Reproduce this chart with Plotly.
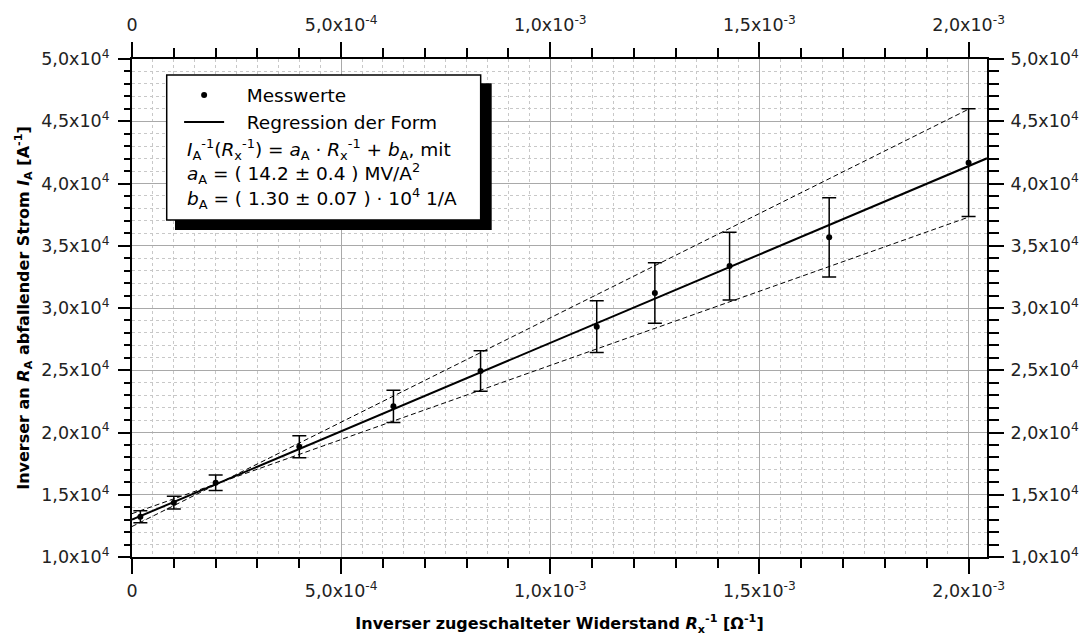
import plotly.graph_objects as go

# ---- data ----
x_vals = [2.0e-5, 1.0e-4, 2.0e-4, 4.0e-4, 6.25e-4, 8.333e-4, 1.111e-3, 1.25e-3, 1.4286e-3, 1.6667e-3, 2.0e-3]
y_vals = [13240, 14360, 15970, 18860, 22100, 24940, 28500, 31200, 33370, 35680, 41670]
y_err = [480, 510, 620, 880, 1290, 1620, 2080, 2430, 2720, 3180, 4330]

fit_slope = 1.42e7
fit_intercept = 1.30e4
fit_x = [0.0, 2.044e-3]

upper_slope, upper_intercept = 1.676e7, 1.245e4
lower_slope, lower_intercept = 1.191e7, 1.348e4
bound_x = [0.0, 2.0e-3]

x_range = [0.0, 2.044e-3]
y_range = [1.0e4, 5.0e4]
x_tickvals = [0.0, 5e-4, 1e-3, 1.5e-3, 2e-3]
x_ticktext = ["0", "5,0x10<sup>-4</sup>", "1,0x10<sup>-3</sup>", "1,5x10<sup>-3</sup>", "2,0x10<sup>-3</sup>"]
y_tickvals = [1e4, 1.5e4, 2e4, 2.5e4, 3e4, 3.5e4, 4e4, 4.5e4, 5e4]
y_ticktext = ["1,0x10<sup>4</sup>", "1,5x10<sup>4</sup>", "2,0x10<sup>4</sup>", "2,5x10<sup>4</sup>",
              "3,0x10<sup>4</sup>", "3,5x10<sup>4</sup>", "4,0x10<sup>4</sup>", "4,5x10<sup>4</sup>",
              "5,0x10<sup>4</sup>"]

FONT = "DejaVu Sans"
MAJOR_GRID = "#a9a9a9"
MINOR_GRID = "#c8c8c8"
NB = "\u00a0"

fig = go.Figure()

fig.add_trace(go.Scatter(x=bound_x, y=[upper_intercept + upper_slope * v for v in bound_x],
                         mode="lines", line=dict(color="black", width=1, dash="5px,3px"),
                         showlegend=False, hoverinfo="skip"))
fig.add_trace(go.Scatter(x=bound_x, y=[lower_intercept + lower_slope * v for v in bound_x],
                         mode="lines", line=dict(color="black", width=1, dash="5px,3px"),
                         showlegend=False, hoverinfo="skip"))
fig.add_trace(go.Scatter(x=x_vals, y=y_vals, mode="markers", name=NB * 3 + "Messwerte",
                         marker=dict(color="black", size=6),
                         error_y=dict(type="data", array=y_err, visible=True, color="black",
                                      thickness=1.5, width=7)))
fig.add_trace(go.Scatter(x=fit_x, y=[fit_intercept + fit_slope * v for v in fit_x],
                         mode="lines", name=NB * 3 + "Regression der Form",
                         line=dict(color="black", width=2)))

tickfont = dict(family=FONT, size=17.5, color="#222")
common_x = dict(range=x_range, showline=True, linecolor="black", linewidth=2, zeroline=False,
                automargin=False)
common_y = dict(range=y_range, showline=True, linecolor="black", linewidth=2, zeroline=False,
                automargin=False)

fig.update_layout(
    width=1079, height=631,
    margin=dict(l=124, r=100, t=51, b=82),
    paper_bgcolor="white", plot_bgcolor="white",
    font=dict(family=FONT, size=18, color="black"),
    xaxis=dict(**common_x, tickmode="array", tickvals=x_tickvals, ticktext=x_ticktext,
               ticks="outside", ticklen=15, tickwidth=2, tickcolor="black", tickfont=tickfont,
               ticklabelstandoff=2,
               showgrid=True, gridcolor=MAJOR_GRID, gridwidth=1,
               minor=dict(tickmode="linear", tick0=0, dtick=5e-5, ticks="", showgrid=True,
                          gridcolor=MINOR_GRID, griddash="dot", gridwidth=1),
               title=dict(text="<b>Inverser zugeschalteter Widerstand <i>R</i><sub>x</sub><sup>-1</sup> [Ω<sup>-1</sup>]</b>",
                          font=dict(family=FONT, size=16), standoff=18)),
    xaxis2=dict(**common_x, overlaying="x", side="top", tickmode="array", tickvals=x_tickvals,
                ticktext=x_ticktext, ticks="outside", ticklen=15, tickwidth=2, tickcolor="black",
                tickfont=tickfont, showgrid=False, ticklabelstandoff=4,
                minor=dict(tickmode="linear", tick0=0, dtick=1e-4, ticks="outside", ticklen=9,
                           tickwidth=2, tickcolor="black", showgrid=False)),
    xaxis3=dict(**common_x, overlaying="x", side="bottom", tickmode="array", tickvals=x_tickvals,
                ticks="outside", ticklen=15, tickwidth=2, tickcolor="black", showticklabels=False,
                showgrid=False,
                minor=dict(tickmode="linear", tick0=0, dtick=1e-4, ticks="outside", ticklen=9,
                           tickwidth=2, tickcolor="black", showgrid=False)),
    yaxis=dict(**common_y, tickmode="array", tickvals=y_tickvals, ticktext=y_ticktext,
               ticks="outside", ticklen=12, tickwidth=2, tickcolor="black", tickfont=tickfont,
               ticklabelstandoff=5,
               showgrid=True, gridcolor=MAJOR_GRID, gridwidth=1,
               minor=dict(tickmode="linear", tick0=1e4, dtick=1e3, ticks="outside", ticklen=6,
                          tickwidth=2, tickcolor="black", showgrid=True, gridcolor=MINOR_GRID,
                          griddash="dot", gridwidth=1),
               title=dict(text="<b>Inverser an <i>R</i><sub>A</sub> abfallender Strom <i>I</i><sub>A</sub> [A<sup>-1</sup>]</b>",
                          font=dict(family=FONT, size=16), standoff=8)),
    yaxis2=dict(**common_y, overlaying="y", side="right", tickmode="array", tickvals=y_tickvals,
                ticktext=y_ticktext, ticks="outside", ticklen=15, tickwidth=2, tickcolor="black",
                tickfont=tickfont, showgrid=False, ticklabelstandoff=3,
                minor=dict(tickmode="linear", tick0=1e4, dtick=1e3, ticks="outside", ticklen=10,
                           tickwidth=2, tickcolor="black", showgrid=False)),
    legend=dict(x=0.0551, y=0.965, xanchor="left", yanchor="top", bgcolor="rgba(0,0,0,0)",
                borderwidth=0, font=dict(family=FONT, size=18.5, color="black"),
                itemwidth=40, tracegroupgap=0),
    showlegend=True,
)

# dummy invisible traces to activate the extra axes
fig.add_trace(go.Scatter(x=[None], y=[None], xaxis="x2", yaxis="y2", showlegend=False, hoverinfo="skip"))
fig.add_trace(go.Scatter(x=[None], y=[None], xaxis="x3", yaxis="y", showlegend=False, hoverinfo="skip"))

# legend box with shadow
fig.add_shape(type="rect", xref="paper", yref="paper", x0=0.0503, x1=0.4207, y0=0.6566, y1=0.9512,
              fillcolor="black", line=dict(color="black", width=0), layer="above")
fig.add_shape(type="rect", xref="paper", yref="paper", x0=0.0406, x1=0.4078, y0=0.6767, y1=0.9679,
              fillcolor="white", line=dict(color="black", width=1.5), layer="above")

formula_lines = [
    "<i>I</i><sub>A</sub><sup>-1</sup>(<i>R</i><sub>x</sub><sup>-1</sup>) = <i>a</i><sub>A</sub> · <i>R</i><sub>x</sub><sup>-1</sup> + <i>b</i><sub>A</sub>, mit",
    "<i>a</i><sub>A</sub> = ( 14.2 ± 0.4 ) MV/A<sup>2</sup>",
    "<i>b</i><sub>A</sub> = ( 1.30 ± 0.07 ) · 10<sup>4</sup> 1/A",
]
for i, txt in enumerate(formula_lines):
    fig.add_annotation(xref="paper", yref="paper", x=0.0615, y=(557 - (149 + 24.5 * i)) / 498,
                       xanchor="left", yanchor="middle", text=txt, showarrow=False,
                       font=dict(family=FONT, size=18.5, color="black"))

fig.write_html("out.html")
